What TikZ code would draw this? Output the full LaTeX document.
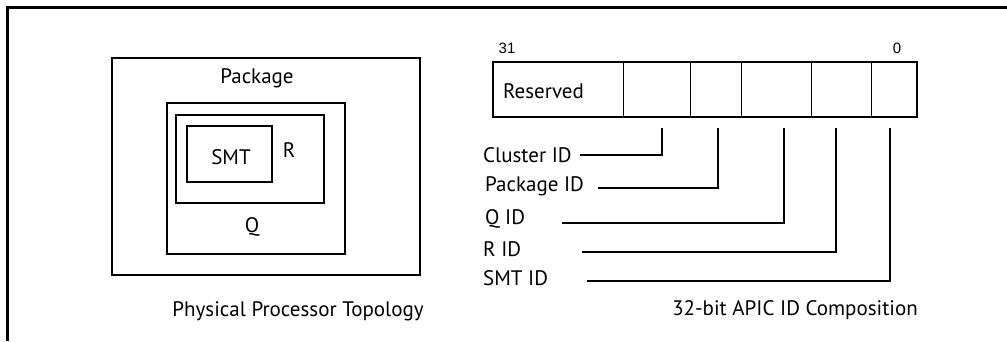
\documentclass[tikz,border=0pt]{standalone}
\usepackage{fontspec}
\setmainfont{PT Sans}
\newfontfamily\digitfont{Liberation Sans}
\usetikzlibrary{positioning}

\begin{document}
\begin{tikzpicture}[
  x=1pt, y=-1pt, font=\fontsize{21}{25}\selectfont,
  box/.style={draw, line width=2pt, inner sep=0pt, outer sep=0pt},
  fld/.style={draw, line width=1pt, minimum height=55pt, inner sep=0pt, outer sep=0pt},
  txt/.style={anchor=base, inner sep=0pt},
  lbl/.style={anchor=base west, inner sep=0pt},
  bit/.style={anchor=base, inner sep=0pt, font=\digitfont\fontsize{15}{18}\selectfont},
  ln/.style={line width=2pt}
]
\useasboundingbox (0,0) rectangle (1007,341);
\draw[line width=2.4pt] (7.5,341) -- (7.5,7.5) -- (1007,7.5);

% physical topology
\node[box, minimum width=308pt, minimum height=217pt] (pkg) at (266,166.5) {};
\node[box, minimum width=178pt, minimum height=151pt] (qbox) at (256,178.5) {};
\node[box, minimum width=148pt, minimum height=88pt]  (rbox) at (250,159) {};
\node[box, minimum width=85pt,  minimum height=56pt]  (smt)  at (229.5,154) {};
\node[txt] (pkgt) at (257,83)  {Package};
\node[txt] (smtt) at (231,164) {SMT};
\node[txt] (rt)   at (289,157) {R};
\node[txt] (qt)   at (252,232) {Q};
\node[txt] (phys) at (298,316) {Physical Processor Topology};

% APIC ID register
\node[fld, minimum width=130pt] (resv) at (558,89.5) {};
\node[fld, minimum width=67pt, right=0pt of resv] (cluf) {};
\node[fld, minimum width=51pt, right=0pt of cluf] (pkgf) {};
\node[fld, minimum width=70pt, right=0pt of pkgf] (qf) {};
\node[fld, minimum width=60pt, right=0pt of qf]   (rf) {};
\node[fld, minimum width=46pt, right=0pt of rf]   (smtf) {};
\draw[line width=2pt] (resv.north west) rectangle (smtf.south east);
\node[lbl] (resvt) at (503,98) {Reserved};
\node[bit] (b31) at (507,53) {31};
\node[bit] (b0)  at (897,53) {0};

\node[lbl] (clul) at (483,162) {Cluster ID};
\node[lbl] (pkgl) at (485,191) {Package ID};
\node[lbl] (ql)   at (485,224) {Q ID};
\node[lbl] (rl)   at (483,256) {R ID};
\node[lbl] (smtl) at (483,285) {SMT ID};

\coordinate (c1) at (580,155); \coordinate (t1) at (662,128);
\coordinate (c2) at (598,188); \coordinate (t2) at (718,128);
\coordinate (c3) at (562,223); \coordinate (t3) at (784,128);
\coordinate (c4) at (582,252); \coordinate (t4) at (836,128);
\coordinate (c5) at (587,281); \coordinate (t5) at (890,128);
\draw[ln] (c1) -| (t1);
\draw[ln] (c2) -| (t2);
\draw[ln] (c3) -| (t3);
\draw[ln] (c4) -| (t4);
\draw[ln] (c5) -| (t5);

\node[txt] (apic) at (795,315) {32-bit APIC ID Composition};
\end{tikzpicture}
\end{document}
